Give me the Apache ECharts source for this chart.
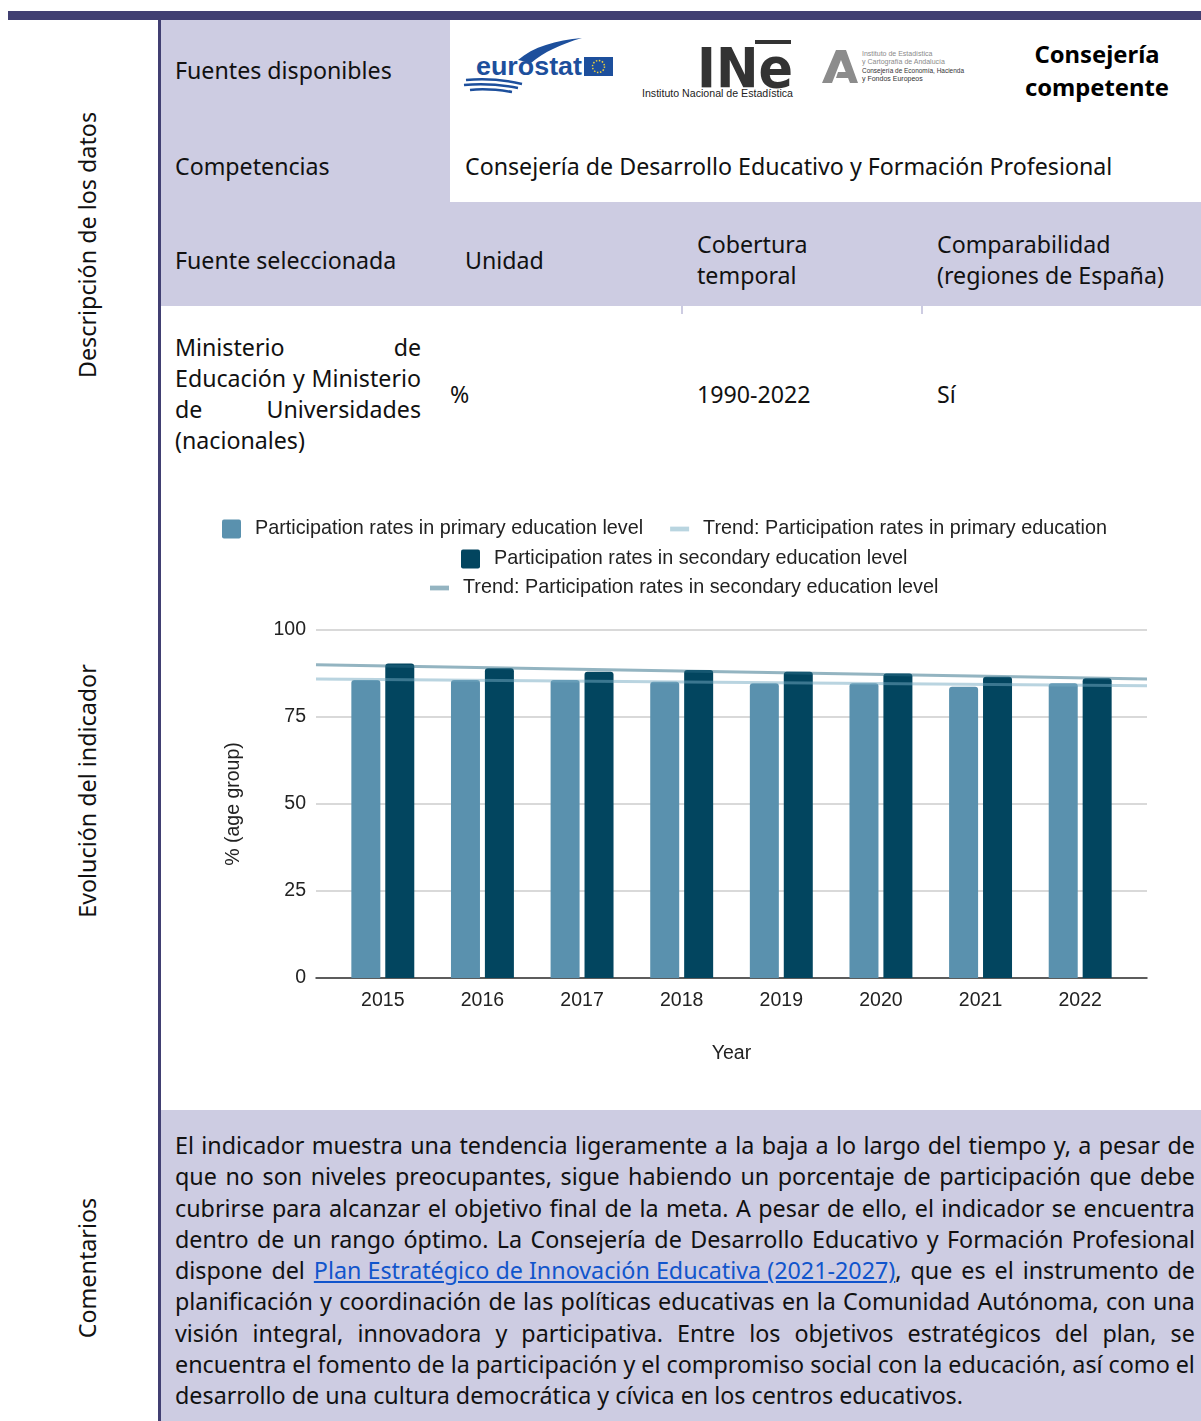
<!DOCTYPE html>
<html>
<head>
<meta charset="utf-8">
<script src="https://cdn.jsdelivr.net/npm/echarts@6/dist/echarts.min.js"></script>
<style>
  html, body { margin: 0; padding: 0; background: #fff; }
  body { width: 1201px; height: 1421px; position: relative; overflow: hidden;
         font-family: "Noto Sans", sans-serif; color: #111; font-size: 23.2px; }
  .abs { position: absolute; }
  .lav { background: #cdcce2; }
  .dark { background: #413f72; }
  .t { position: absolute; white-space: nowrap; line-height: 31px; }
  .rot { position: absolute; white-space: nowrap; font-size: 23.3px; transform: translate(-50%, -50%) rotate(-90deg); }
  .jl { display: flex; justify-content: space-between; white-space: nowrap; }
  .jlast { white-space: nowrap; }
  #chart { position: absolute; left: 161px; top: 480px; width: 1040px; height: 620px; }
  a { color: #1155cc; text-decoration: underline; }
</style>
</head>
<body>
<!-- marco de la tabla -->
<div class="abs dark" style="left:8px;top:11px;width:1193px;height:9px"></div>
<div class="abs dark" style="left:158px;top:20px;width:3px;height:1401px"></div>
<div class="abs lav" style="left:161px;top:20px;width:289px;height:182px"></div>
<div class="abs lav" style="left:161px;top:202px;width:1040px;height:104px"></div>
<div class="abs lav" style="left:681px;top:306px;width:2px;height:8px"></div>
<div class="abs lav" style="left:921px;top:306px;width:2px;height:8px"></div>
<div class="abs lav" style="left:161px;top:1110px;width:1040px;height:311px"></div>

<!-- etiquetas laterales -->
<div class="rot" style="left:87px;top:245px">Descripción de los datos</div>
<div class="rot" style="left:87px;top:791px">Evolución del indicador</div>
<div class="rot" style="left:87px;top:1268px">Comentarios</div>

<!-- filas -->
<div class="t" style="left:175px;top:55px">Fuentes disponibles</div>
<div class="t" style="left:175px;top:151px">Competencias</div>
<div class="t" style="left:465px;top:151px">Consejería de Desarrollo Educativo y Formación Profesional</div>
<div class="t" style="left:175px;top:245px">Fuente seleccionada</div>
<div class="t" style="left:465px;top:245px">Unidad</div>
<div class="t" style="left:697px;top:229px">Cobertura<br>temporal</div>
<div class="t" style="left:937px;top:229px">Comparabilidad<br>(regiones de España)</div>

<div class="abs" style="left:175px;top:332px;width:246px;line-height:31px">
  <div class="jl">Ministerio de</div>
  <div class="jl">Educación y Ministerio</div>
  <div class="jl">de Universidades</div>
  <div class="jlast">(nacionales)</div>
</div>
<div class="t" style="left:450px;top:379px">%</div>
<div class="t" style="left:697px;top:379px">1990-2022</div>
<div class="t" style="left:937px;top:379px">Sí</div>

<!-- logos -->
<svg class="abs" style="left:0;top:0" width="1201" height="110" viewBox="0 0 1201 110">
  <!-- eurostat -->
  <path d="M518,60 C533,47 556,40 582,38 C561,44 544,52 531,63 Z" fill="#1d4f9c"/>
  <text x="476" y="75" font-family="Liberation Sans" font-weight="bold" font-size="25" fill="#1d4f9c" textLength="106" lengthAdjust="spacingAndGlyphs">eurostat</text>
  <rect x="584" y="57" width="29" height="19" fill="#1d4f9c"/>
  <circle cx="598.5" cy="66.5" r="6" fill="none" stroke="#f2d23a" stroke-width="1.5" stroke-dasharray="1.5 1.6"/>
  <path d="M466,80 C485,78 505,80 522,84" stroke="#1d4f9c" stroke-width="2.5" fill="none"/>
  <path d="M464,85 C483,83 503,85 518,88" stroke="#1d4f9c" stroke-width="2.5" fill="none"/>
  <path d="M470,90 C486,88 500,90 512,92" stroke="#1d4f9c" stroke-width="2.5" fill="none"/>
  <!-- INE -->
  <text x="697" y="87" font-family="DejaVu Sans Condensed, DejaVu Sans" font-weight="bold" font-size="56" fill="#333" textLength="96" lengthAdjust="spacingAndGlyphs">INe</text>
  <rect x="755" y="40" width="36" height="4" fill="#333"/>
  <text x="642" y="97" font-family="Liberation Sans" font-size="10" fill="#222" textLength="151" lengthAdjust="spacingAndGlyphs">Instituto Nacional de Estadística</text>
  <!-- IECA -->
  <path d="M822,83 L836,50 L846,50 L858,83 L850,83 L841,60 L832,83 Z" fill="#8c8c8c"/>
  <path d="M838,72 L848,72 L850,78 L836,78 Z" fill="#8c8c8c"/>
  <text x="862" y="56" font-family="Liberation Sans Narrow, Liberation Sans" font-size="7" fill="#8a8a8a">Instituto de Estadística</text>
  <text x="862" y="64" font-family="Liberation Sans Narrow, Liberation Sans" font-size="7" fill="#8a8a8a">y Cartografía de Andalucía</text>
  <text x="862" y="73" font-family="Liberation Sans Narrow, Liberation Sans" font-size="7" fill="#333" textLength="102" lengthAdjust="spacingAndGlyphs">Consejería de Economía, Hacienda</text>
  <text x="862" y="81" font-family="Liberation Sans Narrow, Liberation Sans" font-size="7" fill="#333">y Fondos Europeos</text>
</svg>
<div class="abs" style="left:1000px;top:38px;width:194px;text-align:center;font-weight:bold;font-size:23.8px;line-height:33px;color:#000">Consejería<br>competente</div>

<div id="chart"></div>

<!-- comentarios -->
<div class="abs" style="left:175px;top:1130px;width:1020px;line-height:31.3px;font-size:23.3px">
  <div class="jl">El indicador muestra una tendencia ligeramente a la baja a lo largo del tiempo y, a pesar de</div>
  <div class="jl">que no son niveles preocupantes, sigue habiendo un porcentaje de participación que debe</div>
  <div class="jl">cubrirse para alcanzar el objetivo final de la meta. A pesar de ello, el indicador se encuentra</div>
  <div class="jl">dentro de un rango óptimo. La Consejería de Desarrollo Educativo y Formación Profesional</div>
  <div class="jl"><span>dispone</span><span>del</span><span><a>Plan Estratégico de Innovación Educativa (2021-2027)</a>,</span><span>que</span><span>es</span><span>el</span><span>instrumento</span><span>de</span></div>
  <div class="jl">planificación y coordinación de las políticas educativas en la Comunidad Autónoma, con una</div>
  <div class="jl">visión integral, innovadora y participativa. Entre los objetivos estratégicos del plan, se</div>
  <div class="jl">encuentra el fomento de la participación y el compromiso social con la educación, así como el</div>
  <div class="jlast">desarrollo de una cultura democrática y cívica en los centros educativos.</div>
</div>

<script>
  // líneas justificadas: cada palabra en su span
  document.querySelectorAll('.jl').forEach(el => {
    if (el.children.length) return;
    const words = el.textContent.trim().split(/\s+/);
    el.innerHTML = words.map(w => '<span>' + w + '</span>').join('');
  });

  // datos
  const years = ['2015', '2016', '2017', '2018', '2019', '2020', '2021', '2022'];
  const primaryRate = [85.6, 85.6, 85.6, 85.1, 84.7, 84.7, 83.7, 84.7];
  const secondaryRate = [90.4, 89.0, 88.0, 88.5, 88.0, 87.5, 86.6, 86.1];
  // tendencia: valor al inicio y al final del área del gráfico
  const trendPrimary = [85.9, 84.0];
  const trendSecondary = [90.0, 85.9];
  const yMin = 0, yMax = 100, yStep = 25;

  const names = [
    'Participation rates in primary education level',
    'Trend: Participation rates in primary education',
    'Participation rates in secondary education level',
    'Trend: Participation rates in secondary education level'
  ];
  const colors = ['#5a91ae', '#b9d5e0', '#02455f', '#94b4c1']; // barras / tendencias
  const boxIcon = 'path://M2,0 H17 Q19,0 19,2 V17 Q19,19 17,19 H2 Q0,19 0,17 V2 Q0,0 2,0 Z';
  const lineIcon = 'path://M0,0 L20,0 L20,5 L0,5 Z';
  const font = 'Liberation Sans';

  const myChart = echarts.init(document.getElementById('chart'));

  function legendRow(items, left, top) {
    return {
      left: left,
      top: top,
      padding: 0,
      itemWidth: 19,
      itemHeight: 19,
      itemGap: 27,
      selectedMode: false,
      textStyle: { fontFamily: font, fontSize: 19.8, color: '#222', padding: [0, 0, 0, 9] },
      data: items.map(i => ({
        name: names[i],
        icon: i % 2 === 0 ? boxIcon : lineIcon,
        itemStyle: { color: colors[i], opacity: 1 }
      }))
    };
  }

  let option = {
    backgroundColor: '#fff',
    animation: false,
    legend: [
      legendRow([0, 1], 61, 39),
      legendRow([2], 300, 69),
      legendRow([3], 269, 98)
    ],
    // grid 0: ejes y tendencias, grid 1: barras
    grid: [
      { left: 155, right: 54, top: 150, bottom: 122 },
      { left: 172, right: 71, top: 150, bottom: 122 }
    ],
    xAxis: [
      {
        type: 'value', gridIndex: 0, min: 0, max: 1,
        axisLine: { show: true, onZero: false, lineStyle: { color: '#333', width: 1.5 } },
        axisTick: { show: false }, axisLabel: { show: false }, splitLine: { show: false }
      },
      {
        type: 'category', gridIndex: 1, data: years,
        axisLine: { show: false }, axisTick: { show: false },
        axisLabel: { margin: 13, fontFamily: font, fontSize: 19.5, color: '#222' },
        name: 'Year', nameLocation: 'middle', nameGap: 66,
        nameTextStyle: { fontFamily: font, fontSize: 19.5, color: '#222' }
      }
    ],
    yAxis: [
      {
        type: 'value', gridIndex: 0, min: yMin, max: yMax, interval: yStep,
        axisLine: { show: false }, axisTick: { show: false },
        axisLabel: { margin: 10, fontFamily: font, fontSize: 19.5, color: '#222', padding: [3, 0, 0, 0] },
        splitLine: { lineStyle: { color: '#cccccc', width: 1.5 } },
        name: '% (age group)', nameLocation: 'middle', nameGap: 72, nameRotate: 90,
        nameTextStyle: { fontFamily: font, fontSize: 19.5, color: '#222' }
      },
      {
        type: 'value', gridIndex: 1, min: yMin, max: yMax, show: false
      }
    ],
    series: [
      {
        name: names[0], type: 'bar', xAxisIndex: 1, yAxisIndex: 1,
        data: primaryRate, barWidth: 29, barGap: '17%',
        itemStyle: { color: colors[0], borderRadius: [3, 3, 0, 0] }
      },
      {
        name: names[2], type: 'bar', xAxisIndex: 1, yAxisIndex: 1,
        data: secondaryRate, barWidth: 29, barGap: '17%',
        itemStyle: { color: colors[2], borderRadius: [3, 3, 0, 0] }
      },
      {
        name: names[1], type: 'line', xAxisIndex: 0, yAxisIndex: 0,
        data: [[0, trendPrimary[0]], [1, trendPrimary[1]]],
        showSymbol: false, silent: true, z: 5,
        itemStyle: { color: colors[1] },
        lineStyle: { color: '#73aac2', width: 3, opacity: 0.5 }
      },
      {
        name: names[3], type: 'line', xAxisIndex: 0, yAxisIndex: 0,
        data: [[0, trendSecondary[0]], [1, trendSecondary[1]]],
        showSymbol: false, silent: true, z: 5,
        itemStyle: { color: colors[3] },
        lineStyle: { color: '#276983', width: 3, opacity: 0.5 }
      }
    ]
  };
  myChart.setOption(option);
</script>
</body>
</html>
